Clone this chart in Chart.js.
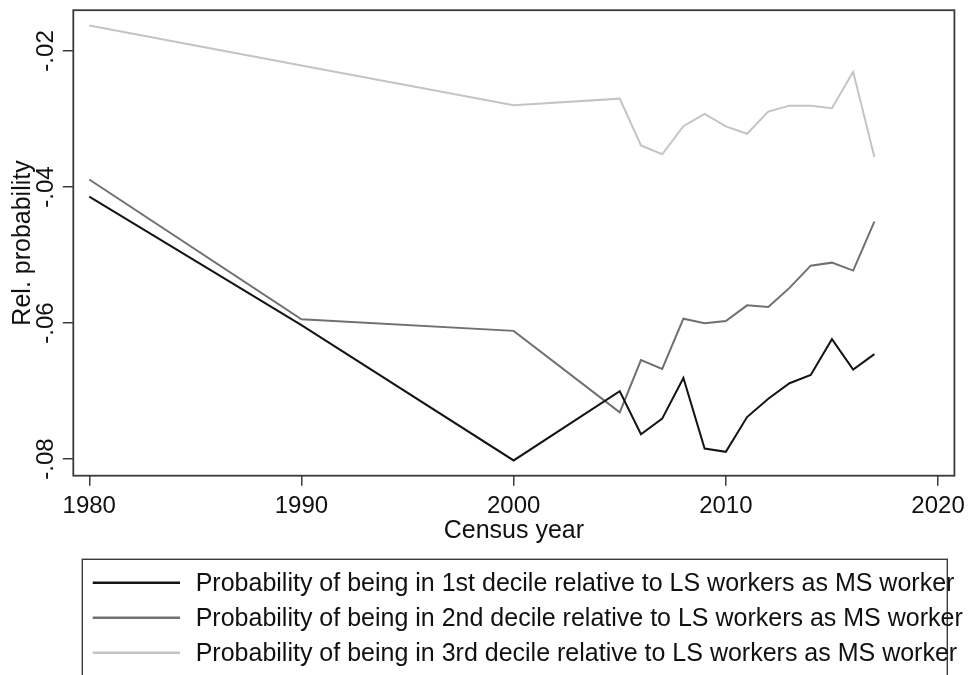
<!DOCTYPE html>
<html>
<head>
<meta charset="utf-8">
<script src="https://cdn.jsdelivr.net/npm/chart.js@4"></script>
<style>
  html, body { margin: 0; padding: 0; background: #fff; }
  #wrap { width: 971px; height: 675px; }
</style>
</head>
<body>
<div id="wrap"><canvas id="c" width="971" height="675"></canvas></div>
<script>
// ---- data ----
const years = [1980, 1990, 2000, 2005, 2006, 2007, 2008, 2009, 2010, 2011, 2012, 2013, 2014, 2015, 2016, 2017];
const decile1 = [-0.04143, -0.0603, -0.0802, -0.07002, -0.07635, -0.07405, -0.06807, -0.07844, -0.07893, -0.07382, -0.07113, -0.06885, -0.06763, -0.06237, -0.06685, -0.06456];
const decile2 = [-0.03890, -0.05944, -0.06115, -0.07313, -0.06544, -0.06675, -0.05936, -0.06003, -0.05969, -0.05740, -0.05765, -0.05483, -0.05156, -0.05112, -0.05229, -0.04508];
const decile3 = [-0.01626, -0.02215, -0.02799, -0.02701, -0.03388, -0.03519, -0.03106, -0.02926, -0.03110, -0.03218, -0.02891, -0.02804, -0.02804, -0.02843, -0.02307, -0.03559];
const seriesLabels = [
  'Probability of being in 1st decile relative to LS workers as MS worker',
  'Probability of being in 2nd decile relative to LS workers as MS worker',
  'Probability of being in 3rd decile relative to LS workers as MS worker'
];
const xTicks = [1980, 1990, 2000, 2010, 2020];
const yTicks = [-0.08, -0.06, -0.04, -0.02];
const yTickLabels = ['-.08', '-.06', '-.04', '-.02'];
const xTitle = 'Census year';
const yTitle = 'Rel. probability';

// ---- styling ----
const FONT = "'Liberation Sans', Arial, Helvetica, sans-serif";
const colors = ['#141414', '#707070', '#c4c4c4'];
const frameColor = '#3a3a3a';

const toPoints = arr => years.map((yr, i) => ({ x: yr, y: arr[i] }));

const datasets = [decile1, decile2, decile3].map((arr, i) => ({
  label: seriesLabels[i],
  data: toPoints(arr),
  borderColor: colors[i],
  backgroundColor: colors[i],
  borderWidth: 2,
  pointRadius: 0,
  tension: 0,
  fill: false
}));

const framePlugin = {
  id: 'stataFrame',
  afterDraw(chart) {
    const { ctx, chartArea: a, scales } = chart;
    ctx.save();
    // plot frame
    ctx.strokeStyle = frameColor;
    ctx.lineWidth = 1.8;
    ctx.strokeRect(a.left, a.top, a.right - a.left, a.bottom - a.top);

    // rotated y tick labels
    const ys = scales.y;
    ctx.fillStyle = '#111';
    ctx.font = '24px ' + FONT;
    ctx.textAlign = 'center';
    ctx.textBaseline = 'alphabetic';
    yTicks.forEach((v, i) => {
      const py = ys.getPixelForValue(v);
      ctx.save();
      ctx.translate(53, py);
      ctx.rotate(-Math.PI / 2);
      ctx.fillText(yTickLabels[i], 0, 0);
      ctx.restore();
    });

    // legend box
    const boxL = 82.3, boxT = 559.3, boxR = 947.3, boxB = 690;
    ctx.strokeStyle = frameColor;
    ctx.lineWidth = 1.4;
    ctx.strokeRect(boxL, boxT, boxR - boxL, boxB - boxT);
    const rowY = [582.7, 617.7, 652.7];
    chart.data.datasets.forEach((ds, i) => {
      ctx.strokeStyle = ds.borderColor;
      ctx.lineWidth = 2.4;
      ctx.beginPath();
      ctx.moveTo(92.7, rowY[i]);
      ctx.lineTo(180, rowY[i]);
      ctx.stroke();
      ctx.fillStyle = '#111';
      ctx.font = '25px ' + FONT;
      ctx.textAlign = 'left';
      ctx.textBaseline = 'middle';
      ctx.fillText(ds.label, 195.7, rowY[i] + 1);
    });
    ctx.restore();
  }
};

new Chart(document.getElementById('c'), {
  type: 'line',
  data: { datasets },
  plugins: [framePlugin],
  options: {
    responsive: false,
    animation: false,
    devicePixelRatio: 1,
    layout: { padding: { left: 0, top: 7.3, right: 14.3, bottom: 128.3 } },
    plugins: {
      legend: { display: false },
      tooltip: { enabled: false }
    },
    scales: {
      x: {
        type: 'linear',
        min: 1979.248,
        max: 2020.771,
        afterBuildTicks: s => { s.ticks = xTicks.map(v => ({ value: v })); },
        afterFit: s => { s.height = 71; },
        border: { display: false },
        grid: { drawOnChartArea: false, drawTicks: true, tickLength: 10, color: frameColor, lineWidth: 1.5 },
        ticks: {
          padding: 6,
          maxRotation: 0,
          autoSkip: false,
          color: '#111',
          font: { family: FONT, size: 24 },
          callback: v => String(v)
        },
        title: {
          display: true,
          text: xTitle,
          color: '#111',
          font: { family: FONT, size: 25 },
          padding: { top: 0, bottom: 1 }
        }
      },
      y: {
        type: 'linear',
        min: -0.08244,
        max: -0.01401,
        afterBuildTicks: s => { s.ticks = yTicks.map(v => ({ value: v })); },
        afterFit: s => { s.width = 73.3; },
        border: { display: false },
        grid: { drawOnChartArea: false, drawTicks: true, tickLength: 10.5, color: frameColor, lineWidth: 1.5 },
        ticks: {
          autoSkip: false,
          callback: () => ''
        },
        title: {
          display: true,
          text: yTitle,
          color: '#111',
          font: { family: FONT, size: 25 },
          padding: { top: 8, bottom: 0 }
        }
      }
    }
  }
});
</script>
</body>
</html>
